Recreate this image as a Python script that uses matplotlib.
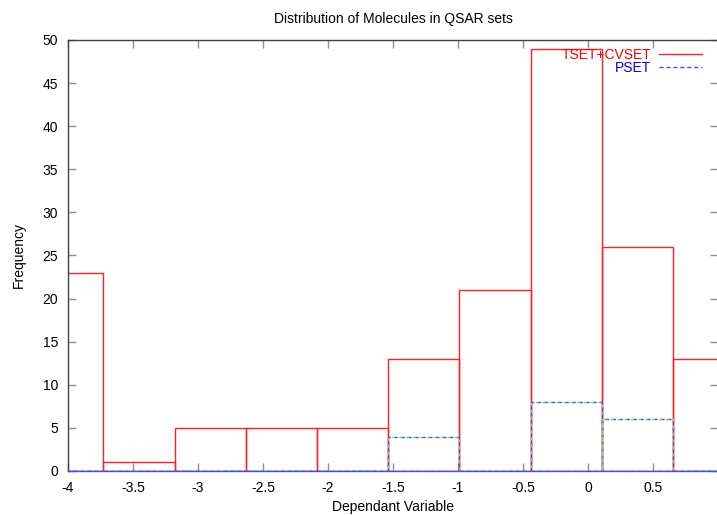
import matplotlib
matplotlib.use("Agg")
import matplotlib.pyplot as plt
from matplotlib.lines import Line2D

# ---- data ----
bin_edges = [-4.276, -3.728, -3.180, -2.632, -2.085, -1.537, -0.989, -0.441, 0.106, 0.654]
bin_width = 0.548
tset_cvset = [23, 1, 5, 5, 5, 13, 21, 49, 26, 13]
pset = [0, 0, 0, 0, 0, 4, 0, 8, 6, 0]
x_ticks = [-4, -3.5, -3, -2.5, -2, -1.5, -1, -0.5, 0, 0.5]
x_tick_labels = ["-4", "-3.5", "-3", "-2.5", "-2", "-1.5", "-1", "-0.5", "0", "0.5"]
y_ticks = [0, 5, 10, 15, 20, 25, 30, 35, 40, 45, 50]
y_tick_labels = [str(v) for v in y_ticks]

plt.rcParams['font.family'] = ['Liberation Sans', 'DejaVu Sans']
plt.rcParams['font.size'] = 10

W, H = 717, 515
fig = plt.figure(figsize=(W / 100, H / 100), dpi=100)
ax = fig.add_axes([68 / W, 1 - 471 / H, (718 - 68) / W, (471 - 40) / H])

ax.bar(bin_edges, tset_cvset, width=bin_width, align='edge', fill=False,
       edgecolor='#ff2020', linewidth=1.0, zorder=2)
ax.bar(bin_edges, pset, width=bin_width, align='edge', fill=False,
       edgecolor='#4848ff', linewidth=1.0, linestyle=(0, (3, 2)), zorder=3)
# green gaps of the dashed PSET boxes
ax.bar(bin_edges, pset, width=bin_width, align='edge', fill=False,
       edgecolor='#70e070', linewidth=1.0, linestyle=(3, (2, 3)), zorder=3)

ax.set_xlim(-4, 1)
ax.set_ylim(0, 50)
ax.set_xticks(x_ticks)
ax.set_xticklabels(x_tick_labels)
ax.set_yticks(y_ticks)
ax.set_yticklabels(y_tick_labels)
ax.tick_params(axis='both', which='both', direction='in', length=6, width=1,
               color='#909090', top=True, right=True, pad=7, labelsize=10)
for s in ['left', 'top', 'right']:
    ax.spines[s].set_color('#404040')
    ax.spines[s].set_linewidth(1)
ax.spines['bottom'].set_color('#4848ff')
ax.spines['bottom'].set_linewidth(1)

ax.set_title("Distribution of Molecules in QSAR sets", fontsize=10, pad=12)
ax.set_xlabel("Dependant Variable", fontsize=10, labelpad=4)
ax.set_ylabel("Frequency", fontsize=10, labelpad=12)

handles = [Line2D([], [], color='#ff2020', lw=1),
           Line2D([], [], color='#4848ff', lw=1, linestyle=(0, (3, 2)))]
leg = fig.legend(handles, ["TSET+CVSET", "PSET"], loc='upper right',
                 bbox_to_anchor=(702 / W, 1 - 48 / H), frameon=False,
                 markerfirst=False, handlelength=3.1, handletextpad=0.55,
                 labelspacing=-0.05, borderpad=0, borderaxespad=0, fontsize=10)
leg.texts[0].set_color('red')
leg.texts[1].set_color('blue')

fig.savefig("out.png", dpi=100)
